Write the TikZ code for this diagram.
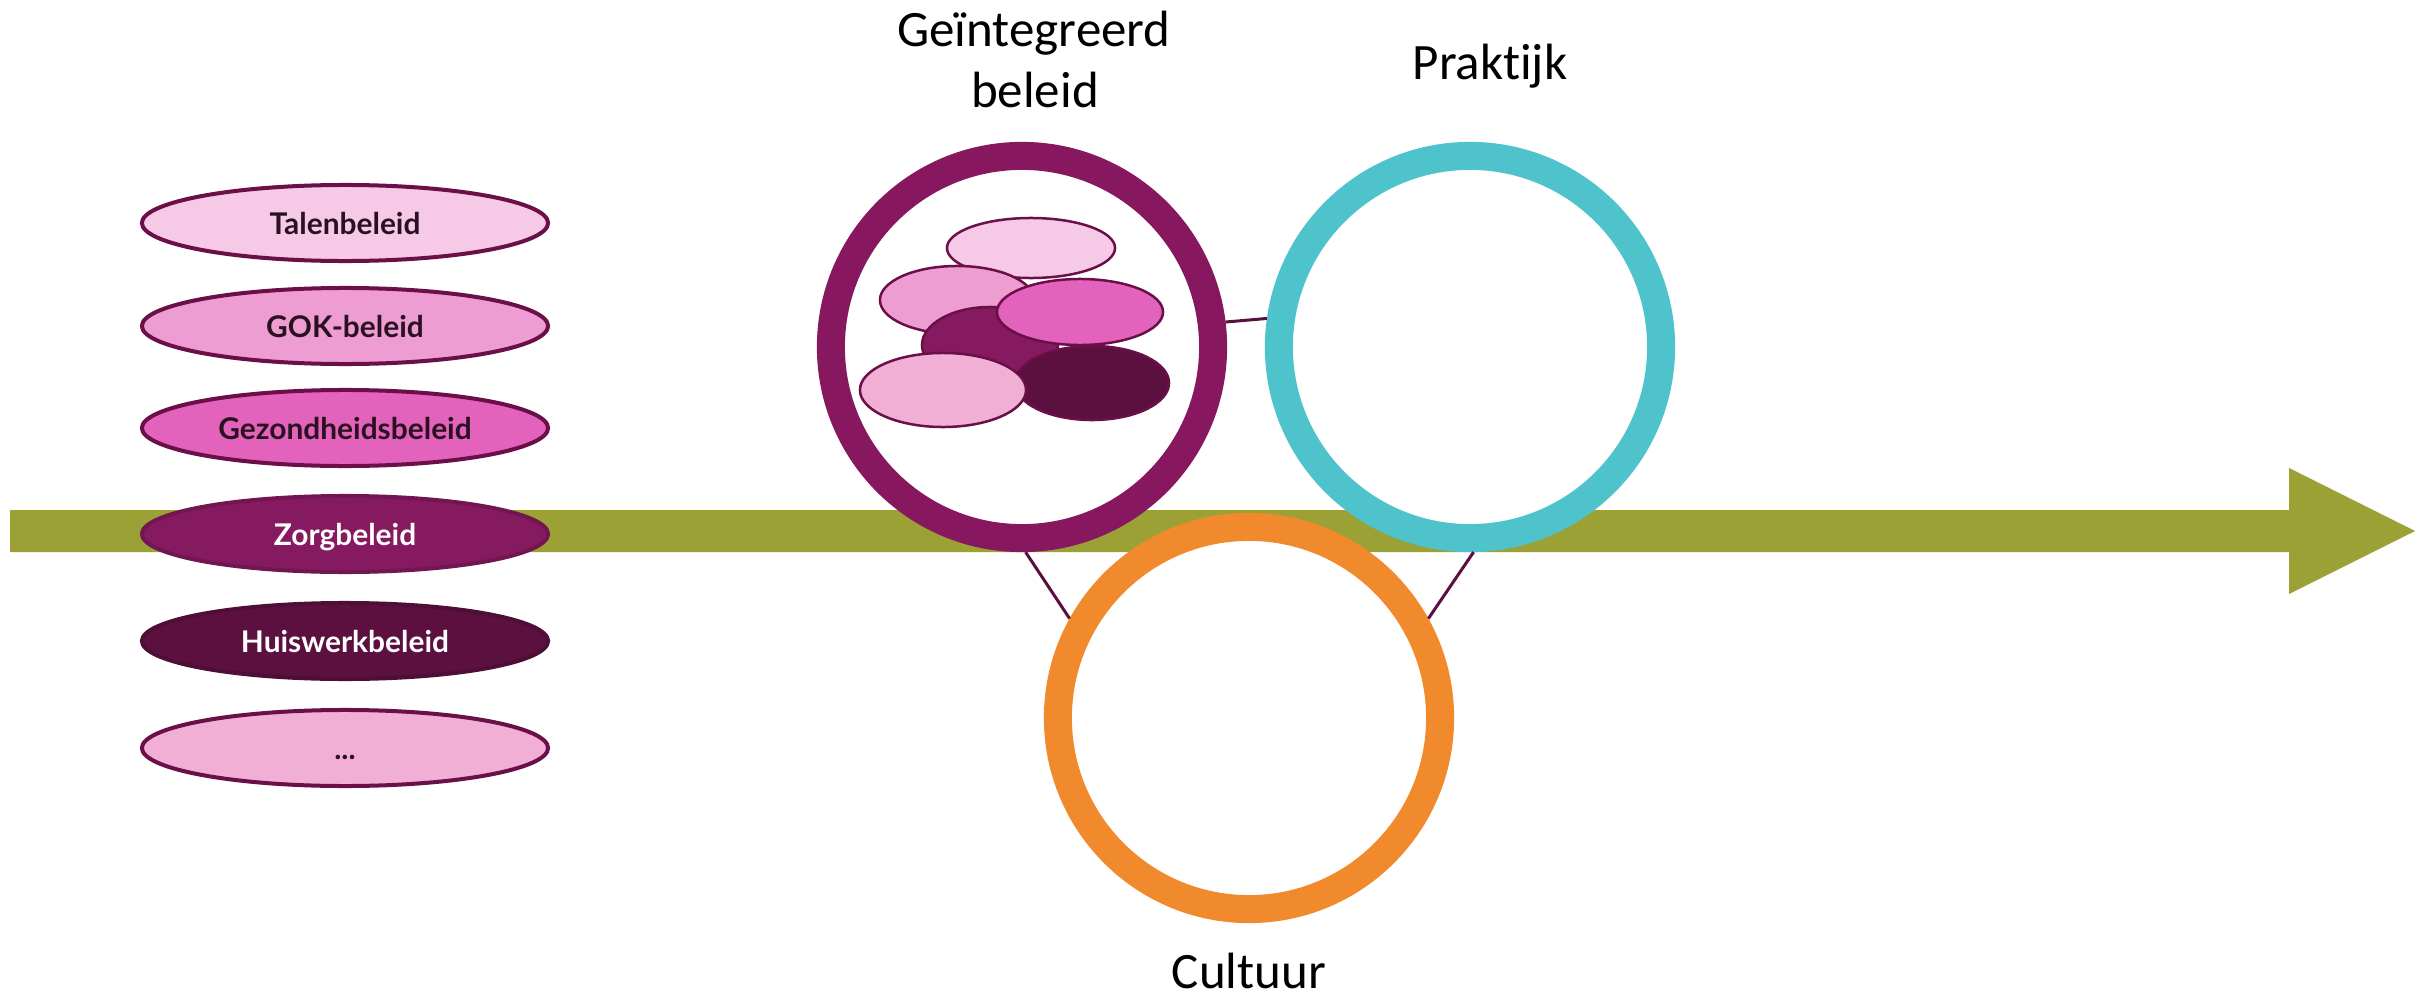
\documentclass[tikz,border=0pt]{standalone}
\usepackage{fontspec}
\setmainfont{Carlito}[Ligatures={NoCommon}]
\newfontfamily\ellfont{Lato}
\usetikzlibrary{shapes.geometric}
\definecolor{arrowgreen}{HTML}{9BA135}
\definecolor{ringpurple}{HTML}{87175F}
\definecolor{ringteal}{HTML}{4EC3CC}
\definecolor{ringorange}{HTML}{F08A2C}
\definecolor{cTalen}{HTML}{F6C9E7}
\definecolor{cGOK}{HTML}{EE9DD2}
\definecolor{cGezond}{HTML}{E262BC}
\definecolor{cZorg}{HTML}{861A60}
\definecolor{cHuis}{HTML}{5C1040}
\definecolor{cDots}{HTML}{F1AFD6}
\definecolor{ellline}{HTML}{6A0F48}
\definecolor{linkcol}{HTML}{5A0F3E}
\definecolor{darktext}{HTML}{2A1020}
\begin{document}
\begin{tikzpicture}[x=0.01cm,y=-0.01cm,
  pill/.style={ellipse, draw=ellline, line width=0.04cm, minimum width=4.06cm, minimum height=0.76cm,
    inner sep=0pt, text height=0.22cm, text depth=0cm, text=darktext,
    font=\ellfont\bfseries\fontsize{8.5}{10}\selectfont},
  ring/.style={circle, line width=0.28cm, minimum size=3.82cm, inner sep=0pt, fill=white},
  link/.style={draw=linkcol, line width=0.03cm},
  title/.style={font=\fontsize{14.5}{17}\selectfont, anchor=base, inner sep=0pt},
  blob/.style={draw=ellline, line width=0.025cm}]
\useasboundingbox[fill=white] (0,0) rectangle (2423,1000);

% time arrow
\fill[arrowgreen] (10,510) -- (2289,510) -- (2289,468) -- (2415,531) -- (2289,594) -- (2289,552) -- (10,552) -- cycle;

% rings
\node[ring, draw=ringpurple] (geint) at (1022,347) {};
\node[ring, draw=ringteal] (prak) at (1470,347) {};
\node[ring, draw=ringorange] (cult) at (1249,718) {};

% links
\draw[link] (geint.7.6) -- (prak.172.4);
\draw[link] (geint.-89) -- (cult.151);
\draw[link] (prak.-89) -- (cult.29);

% blobs inside integrated policy ring
\filldraw[blob, fill=cTalen] (1031,248) ellipse [x radius=0.84cm, y radius=0.30cm];
\filldraw[blob, fill=cGOK] (957,300) ellipse [x radius=0.77cm, y radius=0.34cm];
\filldraw[blob, fill=cZorg] (990,345) ellipse [x radius=0.68cm, y radius=0.38cm];
\filldraw[blob, fill=cHuis] (1092,383) ellipse [x radius=0.77cm, y radius=0.37cm];
\filldraw[blob, fill=cGezond] (1080,312) ellipse [x radius=0.83cm, y radius=0.33cm];
\filldraw[blob, fill=cDots] (943,390) ellipse [x radius=0.83cm, y radius=0.37cm];

% titles
\node[title] (t1) at (1034,47) {Geïntegreerd};
\node[title] (t2) at (1035,107) {beleid};
\node[title] (t3) at (1490,80) {Praktijk};
\node[title] (t4) at (1249,988) {Cultuur};

% policy list
\node[pill, fill=cTalen] (e1) at (345,223) {Talenbeleid};
\node[pill, fill=cGOK] (e2) at (345,326) {GOK-beleid};
\node[pill, fill=cGezond] (e3) at (345,428) {Gezondheidsbeleid};
\node[pill, fill=cZorg, draw=cZorg!85!black, text=white] (e4) at (345,534) {Zorgbeleid};
\node[pill, fill=cHuis, draw=cHuis!85!black, text=white] (e5) at (345,641) {Huiswerkbeleid};
\node[pill, fill=cDots] (e6) at (345,748) {...};
\end{tikzpicture}
\end{document}
